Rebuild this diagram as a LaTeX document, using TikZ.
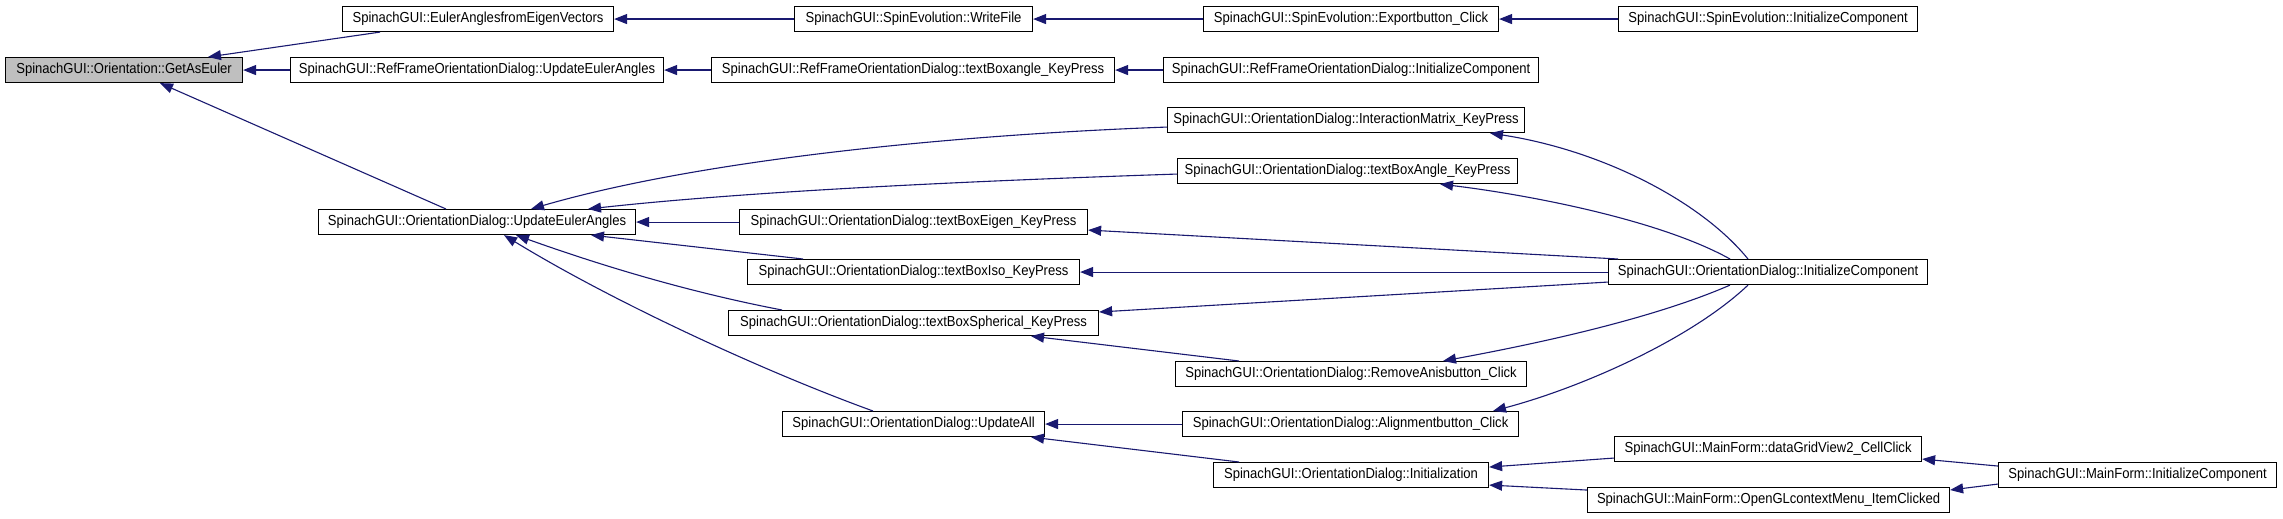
\documentclass[tikz,border=0pt]{standalone}
\usepackage{fontspec}
\setmainfont[FakeStretch=0.9]{Liberation Sans}
\usetikzlibrary{arrows.meta,calc}
\definecolor{edgeblue}{HTML}{191970}
\begin{document}
\begin{tikzpicture}[x=1pt,y=-1pt,
  fn/.style={draw=black,line width=1.1pt,fill=white,inner sep=0pt,minimum height=25pt,
    anchor=north west,font=\fontsize{14.5}{16}\selectfont},
  cur/.style={fn,fill=black!25},
  call/.style={draw=edgeblue,line width=1.1pt,-{Triangle[length=13pt,width=10pt]}}]
\useasboundingbox[fill=white] (0,0) rectangle (2283,519);
% nodes
\node[cur,minimum width=237pt] (ge) at (5,57) {SpinachGUI::Orientation::GetAsEuler};
\node[fn,minimum width=271pt] (eul) at (342,6) {SpinachGUI::EulerAnglesfromEigenVectors};
\node[fn,minimum width=373pt] (rfuea) at (290,57) {SpinachGUI::RefFrameOrientationDialog::UpdateEulerAngles};
\node[fn,minimum width=317pt] (oduea) at (318,209) {SpinachGUI::OrientationDialog::UpdateEulerAngles};
\node[fn,minimum width=238pt] (wf) at (794,6) {SpinachGUI::SpinEvolution::WriteFile};
\node[fn,minimum width=403pt] (rftba) at (711,57) {SpinachGUI::RefFrameOrientationDialog::textBoxangle\_KeyPress};
\node[fn,minimum width=295pt] (exp) at (1203,6) {SpinachGUI::SpinEvolution::Exportbutton\_Click};
\node[fn,minimum width=375pt] (rfic) at (1163,57) {SpinachGUI::RefFrameOrientationDialog::InitializeComponent};
\node[fn,minimum width=299pt] (seic) at (1618,6) {SpinachGUI::SpinEvolution::InitializeComponent};
\node[fn,minimum width=357pt] (im) at (1167,107) {SpinachGUI::OrientationDialog::InteractionMatrix\_KeyPress};
\node[fn,minimum width=340pt] (tba) at (1177,158) {SpinachGUI::OrientationDialog::textBoxAngle\_KeyPress};
\node[fn,minimum width=348pt] (tbe) at (739,209) {SpinachGUI::OrientationDialog::textBoxEigen\_KeyPress};
\node[fn,minimum width=332pt] (tbi) at (747,259) {SpinachGUI::OrientationDialog::textBoxIso\_KeyPress};
\node[fn,minimum width=370pt] (tbs) at (728,310) {SpinachGUI::OrientationDialog::textBoxSpherical\_KeyPress};
\node[fn,minimum width=319pt] (odic) at (1608,259) {SpinachGUI::OrientationDialog::InitializeComponent};
\node[fn,minimum width=351pt] (rab) at (1175,361) {SpinachGUI::OrientationDialog::RemoveAnisbutton\_Click};
\node[fn,minimum width=262pt] (ua) at (782,411) {SpinachGUI::OrientationDialog::UpdateAll};
\node[fn,minimum width=336pt] (ab) at (1182,411) {SpinachGUI::OrientationDialog::Alignmentbutton\_Click};
\node[fn,minimum width=275pt] (ini) at (1213,462) {SpinachGUI::OrientationDialog::Initialization};
\node[fn,minimum width=307pt] (dg) at (1614,436) {SpinachGUI::MainForm::dataGridView2\_CellClick};
\node[fn,minimum width=362pt] (ogl) at (1587,487) {SpinachGUI::MainForm::OpenGLcontextMenu\_ItemClicked};
\node[fn,minimum width=278pt] (mfic) at (1998,462) {SpinachGUI::MainForm::InitializeComponent};
% connectors
\draw[call] ($(eul.south west)+(38,0)$) -- ($(ge.north west)+(203,0)$);
\draw[call] (rfuea.west) -- (ge.east);
\draw[call] ($(oduea.north west)+(128,0)$) -- ($(ge.south west)+(155,0)$);
\draw[call] (wf.west) -- (eul.east);
\draw[call] (exp.west) -- (wf.east);
\draw[call] (seic.west) -- (exp.east);
\draw[call] (rftba.west) -- (rfuea.east);
\draw[call] (rfic.west) -- (rftba.east);
\draw[call] ($(im.west)+(0,7)$) .. controls (950,135) and (700,160) .. ($(oduea.north west)+(213,0)$);
\draw[call] ($(tba.west)+(0,3)$) .. controls (1000,180) and (760,190) .. ($(oduea.north west)+(270,0)$);
\draw[call] (tbe.west) -- (tbe.west -| oduea.east);
\draw[call] ($(tbi.north west)+(56,0)$) -- ($(oduea.south west)+(273,0)$);
\draw[call] ($(tbs.north west)+(54,0)$) .. controls (693,293) and (605,267) .. ($(oduea.south west)+(198,0)$);
\draw[call] ($(ua.north west)+(91,0)$) .. controls (760,370) and (610,300) .. ($(oduea.south west)+(186,0)$);
\draw[call] ($(rab.north west)+(64,0)$) -- ($(tbs.south west)+(303,0)$);
\draw[call] (ab.west) -- (ua.east);
\draw[call] ($(ini.north west)+(26,0)$) -- ($(ua.south west)+(249,0)$);
\draw[call] ($(odic.north west)+(140,0)$) .. controls (1700,200) and (1600,150) .. ($(im.south west)+(323,0)$);
\draw[call] ($(odic.north west)+(122,0)$) .. controls (1660,220) and (1530,195) .. ($(tba.south west)+(263,0)$);
\draw[call] ($(odic.north west)+(10,0)$) -- ($(tbe.east)+(0,8)$);
\draw[call] (odic.west) -- (odic.west -| tbi.east);
\draw[call] ($(odic.west)+(0,10)$) -- ($(tbs.north east)+(0,2)$);
\draw[call] ($(odic.south west)+(122,0)$) .. controls (1650,320) and (1530,345) .. ($(rab.north west)+(268,0)$);
\draw[call] ($(odic.south west)+(140,0)$) .. controls (1690,340) and (1580,388) .. ($(ab.north west)+(311,0)$);
\draw[call] ($(dg.west)+(0,9)$) -- ($(ini.east)+(0,-8)$);
\draw[call] ($(ogl.west)+(0,-10)$) -- ($(ini.east)+(0,10)$);
\draw[call] ($(mfic.west)+(0,-9)$) -- ($(dg.east)+(0,10)$);
\draw[call] ($(mfic.west)+(0,9)$) -- ($(ogl.north east)+(0,3)$);
\end{tikzpicture}
\end{document}
